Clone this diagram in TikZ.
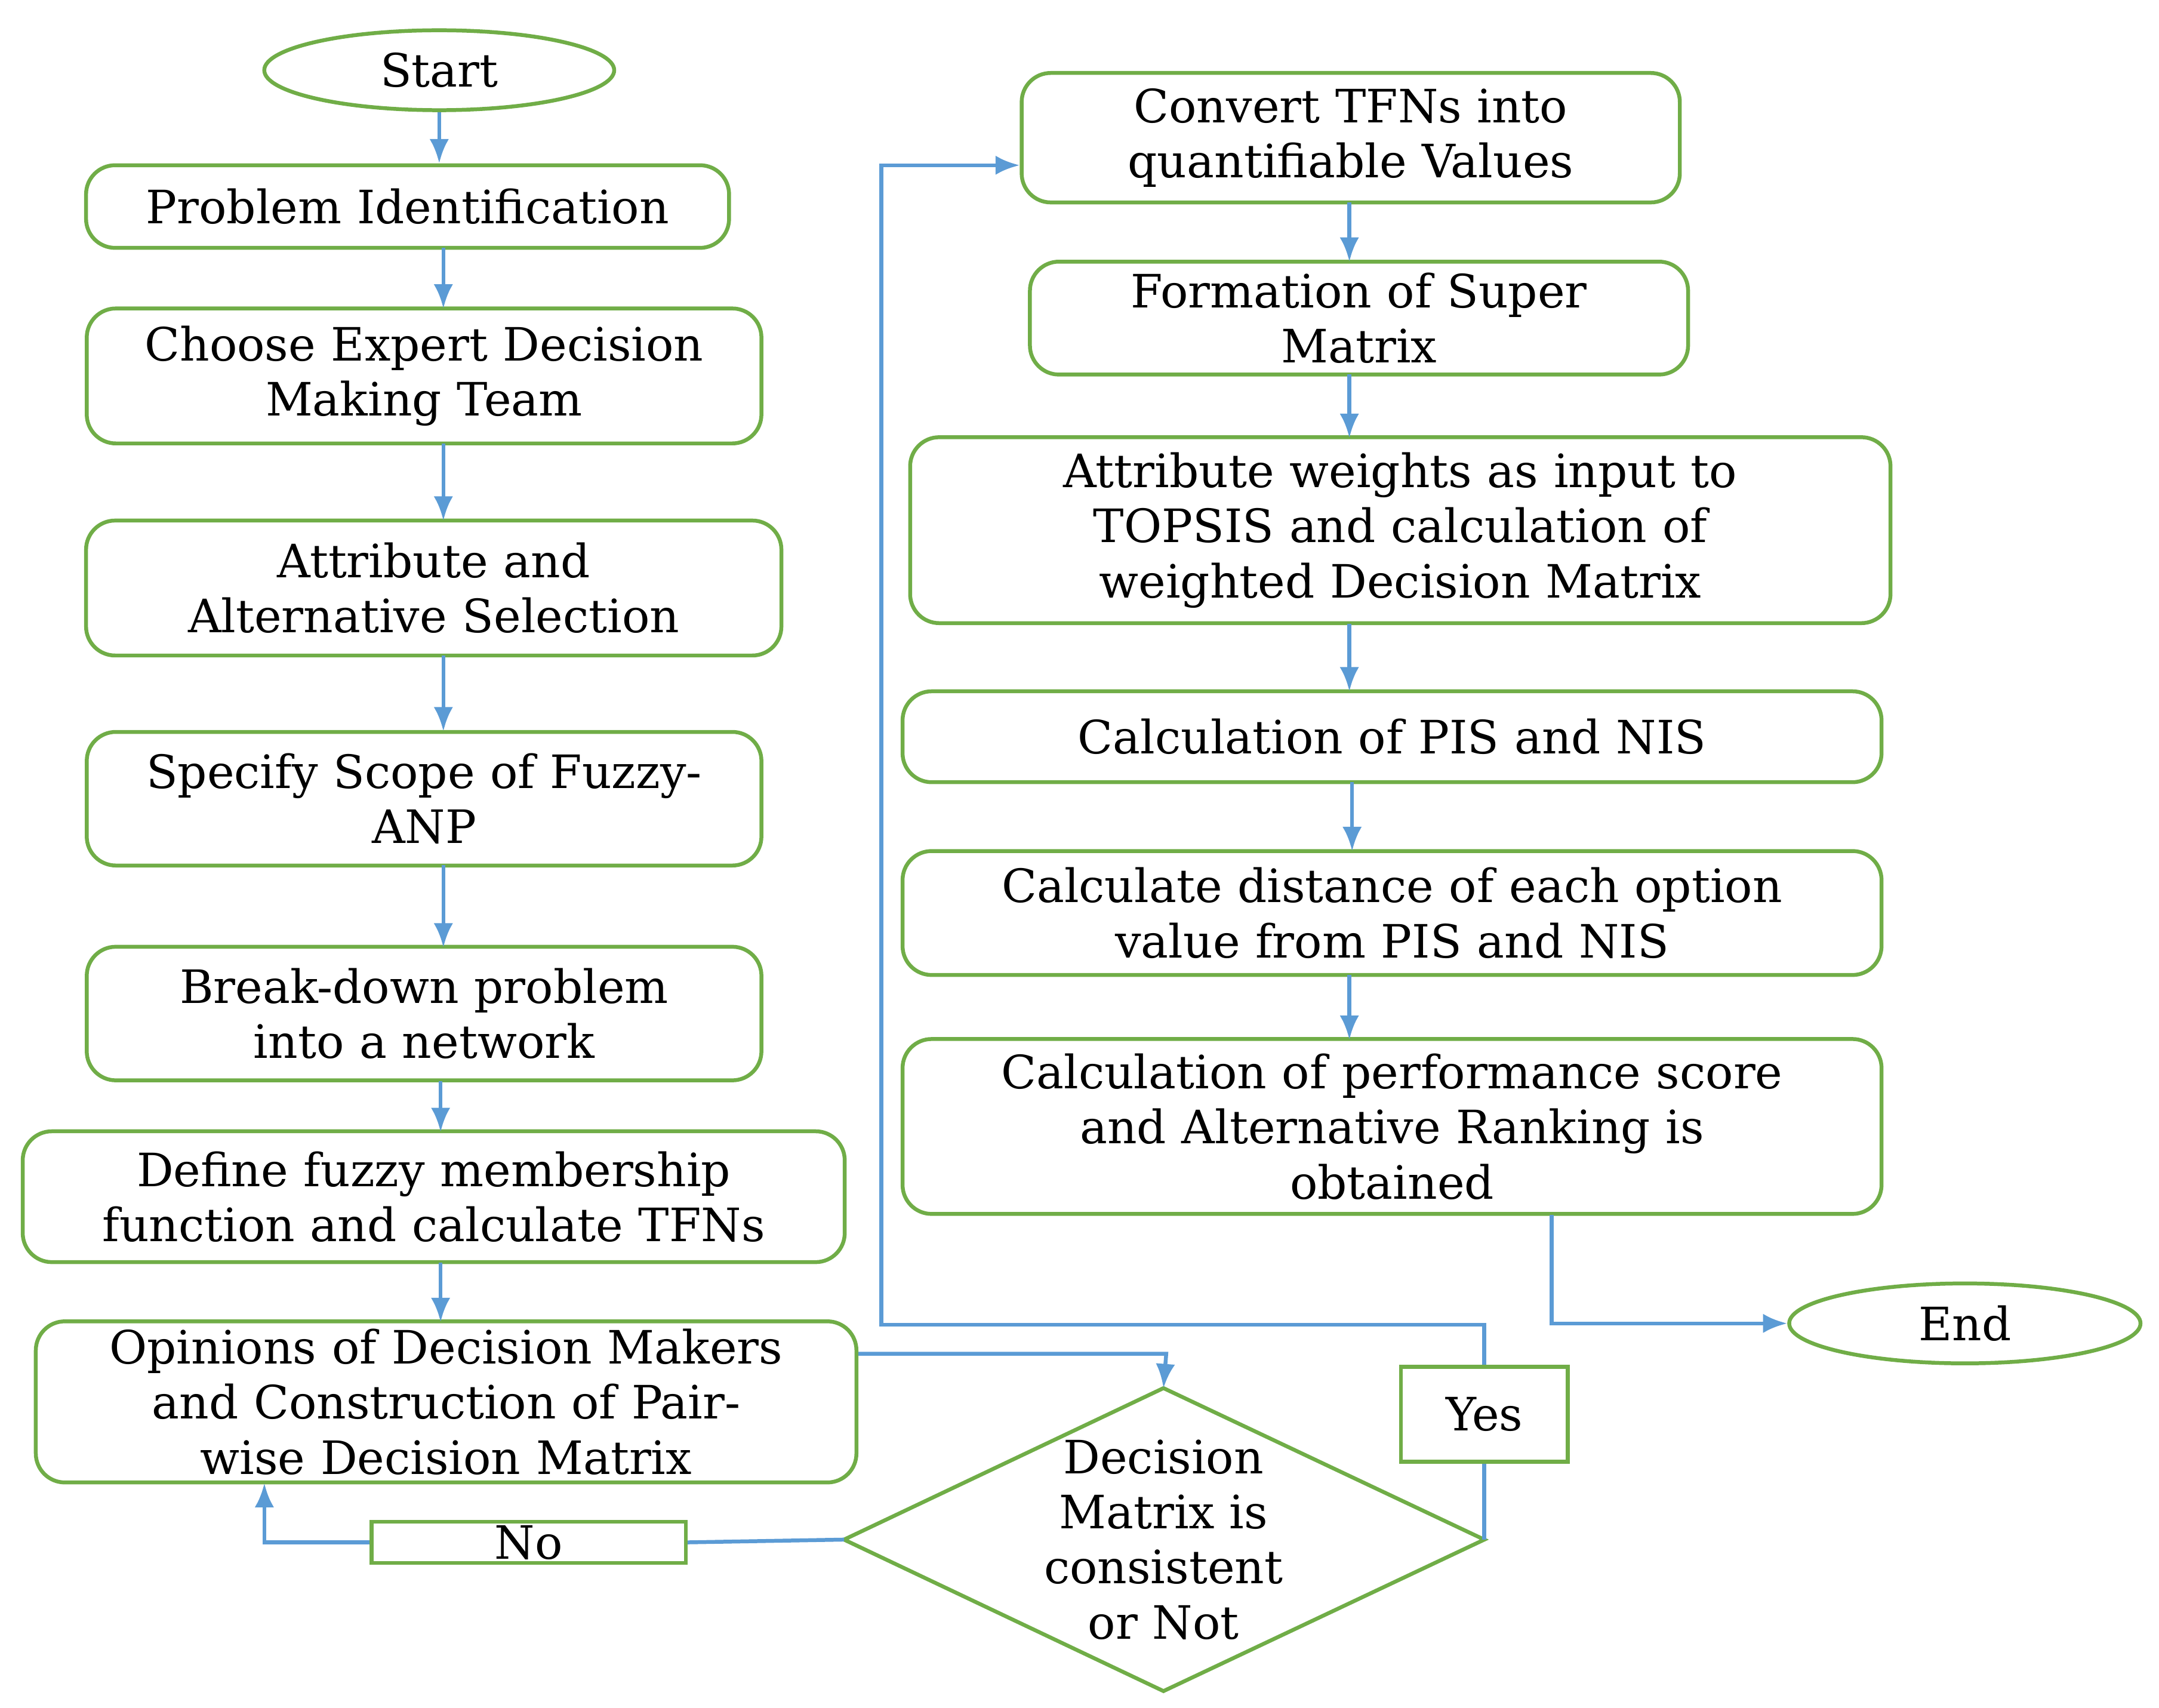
\documentclass[tikz,border=0pt]{standalone}
\usepackage{fontspec}
\setmainfont{DejaVu Serif}
\usetikzlibrary{shapes.geometric,arrows.meta}
\definecolor{gbox}{RGB}{112,173,71}
\definecolor{barrow}{RGB}{91,155,213}
\begin{document}
\begin{tikzpicture}[x=0.01cm,y=-0.01cm,
  box/.style={draw=gbox,line width=0.8pt,rounded corners=6pt,align=center,inner sep=0pt,font=\fontsize{9.5}{11.4}\selectfont},
  term/.style={draw=gbox,line width=0.8pt,ellipse,inner sep=0pt,font=\fontsize{9.5}{11.4}\selectfont},
  lab/.style={draw=gbox,line width=0.8pt,inner sep=0pt,font=\fontsize{9.5}{11.4}\selectfont},
  arr/.style={draw=barrow,line width=0.8pt,-{Latex[length=5pt,width=4pt]}},
  ln/.style={draw=barrow,line width=0.8pt}]
\useasboundingbox (0,0) rectangle (1568,1240);
\def\B#1#2#3#4#5#6{\node[box,minimum width=#4*0.01cm,minimum height=#5*0.01cm,text width=#4*0.01cm-10pt] (#1) at (#2,#3) {#6};}
\node[term,minimum width=2.54cm,minimum height=0.58cm] (start) at (319,51) {Start};
\B{pi}{296}{150}{467}{60}{Problem Identification}
\B{ce}{308}{273}{490}{98}{Choose Expert Decision\\Making Team}
\B{aa}{315}{427}{505}{98}{Attribute and\\Alternative Selection}
\B{ss}{308}{580}{490}{97}{Specify Scope of Fuzzy-\\ANP}
\B{bd}{308}{736}{490}{97}{Break-down problem\\into a network}
\B{df}{315}{869}{597}{95}{Define fuzzy membership\\function and calculate TFNs}
\B{op}{324}{1018}{596}{117}{Opinions of Decision Makers\\and Construction of Pair-\\wise Decision Matrix}
\coordinate (dmN) at (845,1008);
\coordinate (dmE) at (1078,1118);
\coordinate (dmS) at (845,1228);
\coordinate (dmW) at (613,1118);
\draw[gbox,line width=0.8pt] (dmN) -- (dmE) -- (dmS) -- (dmW) -- cycle;
\node[align=center,inner sep=0pt,font=\fontsize{9.5}{11.4}\selectfont] (dm) at (845,1118) {Decision\\Matrix is\\consistent\\or Not};
\node[lab,minimum width=2.28cm,minimum height=0.30cm] (no) at (384,1120) {No};
\node[lab,minimum width=1.21cm,minimum height=0.69cm] (yes) at (1078,1027) {Yes};
\B{cv}{981}{100}{478}{94}{Convert TFNs into\\quantifiable Values}
\B{fs}{987}{231}{478}{82}{Formation of Super\\Matrix}
\B{aw}{1017}{385}{712}{135}{Attribute weights as input to\\TOPSIS and calculation of\\weighted Decision Matrix}
\B{cp}{1011}{535}{711}{66}{Calculation of PIS and NIS}
\B{cd}{1011}{663}{711}{90}{Calculate distance of each option\\value from PIS and NIS}
\B{pf}{1011}{818}{711}{127}{Calculation of performance score\\and Alternative Ranking is\\obtained}
\node[term,minimum width=2.55cm,minimum height=0.58cm] (end) at (1427,961) {End};
\draw[arr] (start.south) -- (start.south|-pi.north);
\draw[arr] (322,180) -- (322,224);
\draw[arr] (322,322) -- (322,378);
\draw[arr] (322,476) -- (322,531);
\draw[arr] (322,628) -- (322,688);
\draw[arr] (320,785) -- (320,822);
\draw[arr] (320,917) -- (320,960);
\draw[arr] (op.east|-0,983) -- (847,983) -- (dmN);
\draw[ln] (dmW) -- (no.east);
\draw[arr] (no.west) -- (192,1120) -- (192,1077);
\draw[ln] (dmE) -- (yes.south);
\draw[arr] (yes.north) -- (1078,962) -- (640,962) -- (640,120) -- (cv.west|-0,120);
\draw[arr] (980,147) -- (980,190);
\draw[arr] (980,272) -- (980,318);
\draw[arr] (980,453) -- (980,502);
\draw[arr] (982,568) -- (982,618);
\draw[arr] (980,708) -- (980,755);
\draw[arr] (1127,882) -- (1127,961) -- (end.west);
\end{tikzpicture}
\end{document}
